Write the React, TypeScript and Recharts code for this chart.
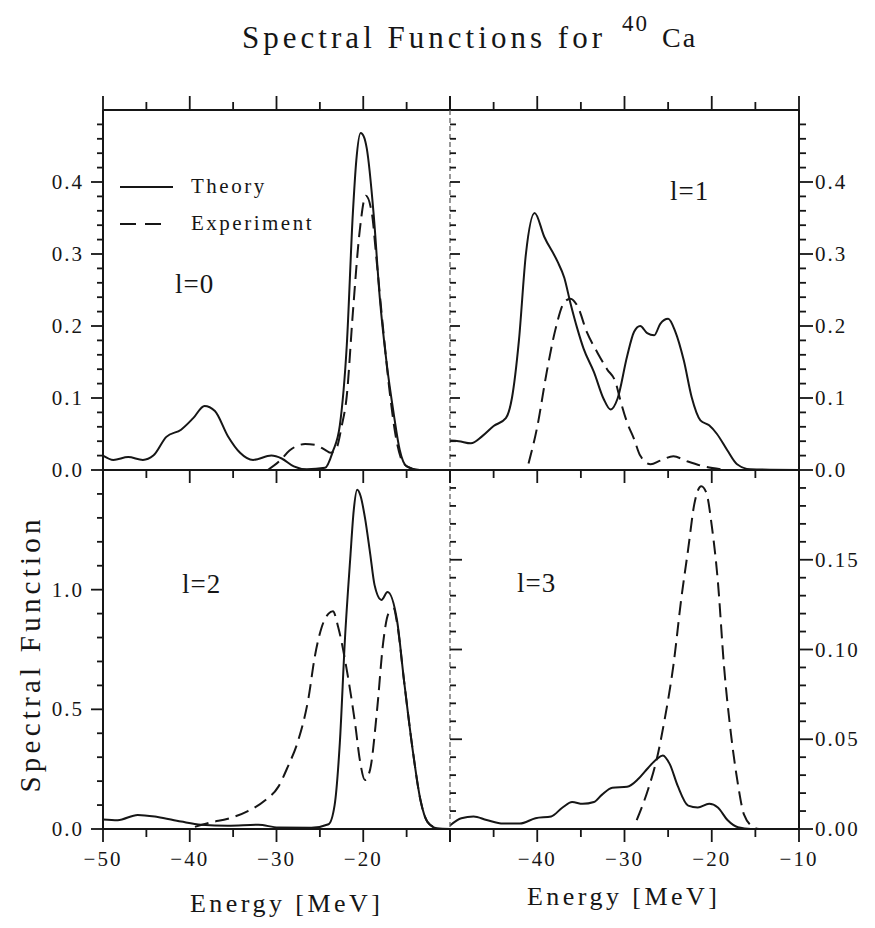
import React from "react";
import { LineChart, Line, XAxis, YAxis, Legend } from "recharts";

type Pt = [number, number]; // [energy MeV, spectral function]

// l = 0
const L0_THEORY: Pt[] = [
  [-50, 0.02], [-48.8, 0.014], [-47.1, 0.018], [-45.4, 0.014], [-44.2, 0.02],
  [-42.7, 0.046], [-41, 0.056], [-39.6, 0.072], [-38.3, 0.089], [-37.1, 0.082],
  [-35.6, 0.047], [-34.2, 0.024], [-32.7, 0.014], [-30.6, 0.02], [-29.4, 0.016],
  [-28, 0.005], [-26.5, 0.001], [-24.4, 0.003], [-23.5, 0.026], [-22.7, 0.062],
  [-21.9, 0.173], [-21.2, 0.356], [-20.8, 0.43], [-20.3, 0.468], [-19.9, 0.462],
  [-19.6, 0.447], [-18.8, 0.355], [-18.1, 0.24], [-17.3, 0.148], [-16.5, 0.079],
  [-15.8, 0.028], [-15, 0.005], [-13.5, 0], [-10, 0],
];
const L0_EXPERIMENT: Pt[] = [
  [-31, 0], [-29.6, 0.013], [-28.5, 0.027], [-26.7, 0.036], [-25.6, 0.035],
  [-24.4, 0.028], [-23.8, 0.024], [-23.1, 0.03], [-22.5, 0.06], [-21.9, 0.103],
  [-21.2, 0.218], [-20.4, 0.333], [-19.7, 0.381], [-19, 0.356], [-18.5, 0.296],
  [-17.7, 0.195], [-16.9, 0.103], [-16.2, 0.043], [-15.4, 0.01], [-14.6, 0.003],
  [-14, 0],
];

// l = 1
const L1_THEORY: Pt[] = [
  [-50, 0.041], [-49, 0.04], [-47.6, 0.037], [-46.3, 0.047], [-45, 0.061],
  [-43.6, 0.072], [-42.9, 0.1], [-42.1, 0.18], [-41.3, 0.3], [-40.3, 0.357],
  [-39.2, 0.324], [-37.7, 0.29], [-36.9, 0.267], [-36.2, 0.232], [-35.4, 0.196],
  [-34.7, 0.169], [-33.5, 0.136], [-32.4, 0.099], [-31.6, 0.084], [-30.8, 0.099],
  [-29.7, 0.158], [-28.9, 0.192], [-28.2, 0.2], [-27.4, 0.19], [-26.6, 0.187],
  [-25.9, 0.203], [-25, 0.21], [-24.2, 0.193], [-23.2, 0.152], [-22.3, 0.101],
  [-21.3, 0.069], [-20.3, 0.062], [-19.4, 0.05], [-18.2, 0.027], [-17.1, 0.008],
  [-15.6, 0.001], [-10, 0],
];
const L1_EXPERIMENT: Pt[] = [
  [-41, 0.009], [-40, 0.06], [-38.9, 0.137], [-37.9, 0.196], [-36.9, 0.233],
  [-36.2, 0.238], [-35.4, 0.228], [-34.3, 0.191], [-33.1, 0.163], [-32, 0.14],
  [-31, 0.121], [-30.5, 0.098], [-29.7, 0.066], [-28.9, 0.043], [-28.2, 0.02],
  [-27, 0.008], [-25.9, 0.013], [-24.4, 0.019], [-22.8, 0.012], [-20.9, 0.005],
  [-19, 0.001],
];

// l = 2
const L2_THEORY: Pt[] = [
  [-50, 0.04], [-48.3, 0.037], [-46, 0.059], [-43.7, 0.05], [-41, 0.031],
  [-38.7, 0.018], [-35.6, 0.014], [-32.1, 0.018], [-29.8, 0.006], [-26, 0.005],
  [-24, 0.02], [-23.3, 0.1], [-22.7, 0.36], [-22.1, 0.8], [-21.5, 1.13],
  [-21.1, 1.33], [-20.7, 1.417], [-20.3, 1.39], [-19.8, 1.3], [-19.2, 1.15],
  [-18.7, 1.02], [-17.9, 0.957], [-17.2, 0.99], [-16.1, 0.87], [-15.3, 0.62],
  [-14.3, 0.33], [-13.4, 0.12], [-12.6, 0.03], [-11.5, 0.003], [-10, 0],
];
const L2_EXPERIMENT: Pt[] = [
  [-39.4, 0.009], [-37.5, 0.028], [-35.6, 0.043], [-33.3, 0.075], [-31.3, 0.12],
  [-29.8, 0.176], [-28.7, 0.26], [-27.5, 0.37], [-26.3, 0.55], [-25.6, 0.717],
  [-24.8, 0.842], [-24, 0.9], [-23.5, 0.91], [-22.9, 0.845], [-21.9, 0.665],
  [-20.9, 0.43], [-20.4, 0.29], [-19.8, 0.205], [-19.2, 0.25], [-18.4, 0.5],
  [-17.7, 0.78], [-17.1, 0.9], [-16.5, 0.92], [-16.1, 0.86], [-15.3, 0.62],
  [-14.3, 0.33], [-13.4, 0.12], [-12.6, 0.03], [-11.5, 0.003],
];

// l = 3
const L3_THEORY: Pt[] = [
  [-50, 0.002], [-48.7, 0.006], [-47.3, 0.007], [-45.8, 0.005], [-43.9, 0.003],
  [-42, 0.003], [-40.2, 0.006], [-38.4, 0.007], [-37.1, 0.012], [-36, 0.015],
  [-34.8, 0.014], [-33.5, 0.015], [-32.6, 0.019], [-31.4, 0.023], [-29.7, 0.0235],
  [-28.4, 0.028], [-27.3, 0.034], [-26.3, 0.039], [-25.6, 0.041], [-24.8, 0.036],
  [-23.9, 0.024], [-22.7, 0.013], [-21.6, 0.012], [-20.3, 0.014], [-19.3, 0.012],
  [-18.2, 0.005], [-17, 0.001], [-15.5, 0], [-10, 0],
];
const L3_EXPERIMENT: Pt[] = [
  [-28.6, 0.005], [-27.3, 0.022], [-26.3, 0.039], [-25.4, 0.061], [-24.4, 0.091],
  [-23.5, 0.128], [-22.7, 0.156], [-22, 0.181], [-21.2, 0.191], [-20.6, 0.187],
  [-20, 0.169], [-19.3, 0.138], [-18.6, 0.091], [-17.8, 0.053], [-17, 0.025],
  [-16.3, 0.008], [-15.2, 0.001], [-14.6, 0],
];

const X_TICKS = [-50, -45, -40, -35, -30, -25, -20, -15, -10];
const LEFT_X_LABELS = [-50, -40, -30, -20];
const RIGHT_X_LABELS = [-40, -30, -20, -10];
const UPPER_Y_LABELS = [0, 0.1, 0.2, 0.3, 0.4];
const L2_Y_LABELS = [0, 0.5, 1.0];
const L3_Y_LABELS = [0, 0.05, 0.1, 0.15];
const LEGEND_ORDER = ["Theory", "Experiment"];

const W = 875;
const H = 928;
const FONT = '"Liberation Serif", "Times New Roman", serif';
const INK = "#161616";
const DASH = "14 7";
const AX = 1; // thickness reserved for each axis

// plot frame (page pixels)
const X0 = 103;
const XM = 450;
const X1 = 799;
const Y0 = 110;
const YM = 470;
const Y1 = 829;

function steps(lo: number, hi: number, step: number) {
  const n = Math.round((hi - lo) / step);
  return Array.from({ length: n + 1 }, (_, i) => Number((lo + i * step).toFixed(4)));
}

const rows = (pts: Pt[]) => pts.map(([x, y]) => ({ x, y }));

type TickOpts = {
  dir: "up" | "down" | "left" | "right";
  major: number;
  majorLen: number;
  minorLen: number;
  labels?: number[];
  digits?: number;
};

// custom tick: with tickSize/tickMargin at 0, (x, y) sits on the axis line
function tickRenderer(o: TickOpts) {
  return (props: any) => {
    const x = Number(props.x);
    const y = Number(props.y);
    const v = Number(props.payload.value);
    const r = v / o.major;
    const isMajor = Math.abs(r - Math.round(r)) < 1e-6;
    const len = isMajor ? o.majorLen : o.minorLen;
    const vertical = o.dir === "up" || o.dir === "down";
    const rx = vertical ? x - 0.9 : o.dir === "left" ? x - len : x;
    const ry = vertical ? (o.dir === "up" ? y - len : y) : y - 0.9;
    const rw = vertical ? 1.8 : len;
    const rh = vertical ? len : 1.8;
    const hasLabel = (o.labels ?? []).some((l) => Math.abs(l - v) < 1e-6);
    let label: React.ReactNode = null;
    if (hasLabel) {
      const txt = (v < 0 ? "\u2212" : "") + Math.abs(v).toFixed(o.digits ?? 0);
      const common = { fontFamily: FONT, fontSize: 21, fill: INK, letterSpacing: 2 };
      if (o.dir === "left") {
        label = <text x={x - 19} y={y + 7} textAnchor="end" {...common}>{txt}</text>;
      } else if (o.dir === "right") {
        label = <text x={x + 16} y={y + 7} textAnchor="start" {...common}>{txt}</text>;
      } else {
        label = <text x={x} y={y + 37} textAnchor="middle" {...common}>{txt}</text>;
      }
    }
    return (
      <g>
        <rect x={rx} y={ry} width={rw} height={rh} fill={INK} stroke="none" />
        {label}
      </g>
    );
  };
}

const solidAxis = { stroke: INK, strokeWidth: 2 };
const dividerAxis = { stroke: "#555", strokeWidth: 1.2, strokeDasharray: "5 3" };

function renderLegend(props: any) {
  const items = [...(props.payload ?? [])].sort(
    (a: any, b: any) => LEGEND_ORDER.indexOf(a.value) - LEGEND_ORDER.indexOf(b.value)
  );
  return (
    <div style={{ fontFamily: FONT, fontSize: 21, letterSpacing: 2.5, color: INK }}>
      {items.map((e: any) => (
        <div key={e.value} style={{ display: "flex", alignItems: "center", height: 37 }}>
          <svg width={60} height={8}>
            <line
              x1={2}
              y1={4}
              x2={e.value === "Experiment" ? 43 : 55}
              y2={4}
              stroke={INK}
              strokeWidth={2}
              strokeDasharray={e.value === "Experiment" ? "16 9" : undefined}
            />
          </svg>
          <span style={{ marginLeft: 13 }}>{e.value}</span>
        </div>
      ))}
    </div>
  );
}

type PanelProps = {
  box: [number, number, number, number];
  yDomain: [number, number];
  yTicks: number[];
  theory: Pt[];
  experiment: Pt[];
  top: TickOpts;
  left: TickOpts;
  leftLine: object;
  bottom?: TickOpts;
  right?: TickOpts;
  legend?: boolean;
};

function Panel(p: PanelProps) {
  const [l, t, r, b] = p.box;
  const margin = {
    left: l - AX,
    top: t - AX,
    right: W - r - (p.right ? AX : 0),
    bottom: H - b - (p.bottom ? AX : 0),
  };
  return (
    <div style={{ position: "absolute", left: 0, top: 0 }}>
      <LineChart width={W} height={H} margin={margin}>
        <XAxis
          xAxisId="main"
          orientation="top"
          type="number"
          dataKey="x"
          domain={[-50, -10]}
          allowDataOverflow
          ticks={X_TICKS}
          interval={0}
          height={AX}
          tickSize={0}
          tickMargin={0}
          tickLine={false}
          axisLine={solidAxis}
          tick={tickRenderer(p.top)}
        />
        {p.bottom && (
          <XAxis
            xAxisId="low"
            orientation="bottom"
            type="number"
            dataKey="x"
            domain={[-50, -10]}
            allowDataOverflow
            ticks={X_TICKS}
            interval={0}
            height={AX}
            tickSize={0}
            tickMargin={0}
            tickLine={false}
            axisLine={solidAxis}
            tick={tickRenderer(p.bottom)}
          />
        )}
        <YAxis
          yAxisId="main"
          orientation="left"
          type="number"
          domain={p.yDomain}
          allowDataOverflow
          ticks={p.yTicks}
          interval={0}
          width={AX}
          tickSize={0}
          tickMargin={0}
          tickLine={false}
          axisLine={p.leftLine}
          tick={tickRenderer(p.left)}
        />
        {p.right && (
          <YAxis
            yAxisId="side"
            orientation="right"
            type="number"
            domain={p.yDomain}
            allowDataOverflow
            ticks={p.yTicks}
            interval={0}
            width={AX}
            tickSize={0}
            tickMargin={0}
            tickLine={false}
            axisLine={solidAxis}
            tick={tickRenderer(p.right)}
          />
        )}
        <Line
          xAxisId="main"
          yAxisId="main"
          data={rows(p.theory)}
          dataKey="y"
          name="Theory"
          type="monotone"
          stroke={INK}
          strokeWidth={2}
          dot={false}
          activeDot={false}
          isAnimationActive={false}
        />
        <Line
          xAxisId="main"
          yAxisId="main"
          data={rows(p.experiment)}
          dataKey="y"
          name="Experiment"
          type="monotone"
          stroke={INK}
          strokeWidth={2}
          strokeDasharray={DASH}
          dot={false}
          activeDot={false}
          isAnimationActive={false}
        />
        {p.legend && (
          <Legend
            layout="horizontal"
            verticalAlign="middle"
            align="center"
            wrapperStyle={{ left: 118, top: 168, width: 260 }}
            content={renderLegend}
          />
        )}
      </LineChart>
    </div>
  );
}

const UPPER_TICKS = steps(0, 0.48, 0.02);
const L2_TICKS = steps(0, 1.4, 0.1);
const L3_TICKS = steps(0, 0.19, 0.01);

export default function App() {
  const txt = { fontFamily: FONT, fill: INK };
  return (
    <div style={{ position: "absolute", left: 0, top: 0, width: W, height: H, background: "#fff" }}>
      {/* l=0 */}
      <Panel
        box={[X0, Y0, XM, YM]}
        yDomain={[0, 0.5]}
        yTicks={UPPER_TICKS}
        theory={L0_THEORY}
        experiment={L0_EXPERIMENT}
        top={{ dir: "up", major: 10, majorLen: 14, minorLen: 8 }}
        left={{ dir: "left", major: 0.1, majorLen: 12, minorLen: 6, labels: UPPER_Y_LABELS, digits: 1 }}
        leftLine={solidAxis}
        legend
      />
      {/* l=1 */}
      <Panel
        box={[XM, Y0, X1, YM]}
        yDomain={[0, 0.5]}
        yTicks={UPPER_TICKS}
        theory={L1_THEORY}
        experiment={L1_EXPERIMENT}
        top={{ dir: "up", major: 10, majorLen: 14, minorLen: 8 }}
        left={{ dir: "right", major: 0.1, majorLen: 10, minorLen: 6 }}
        leftLine={dividerAxis}
        right={{ dir: "right", major: 0.1, majorLen: 14, minorLen: 7, labels: UPPER_Y_LABELS, digits: 1 }}
      />
      {/* l=2 */}
      <Panel
        box={[X0, YM, XM, Y1]}
        yDomain={[0, 1.5]}
        yTicks={L2_TICKS}
        theory={L2_THEORY}
        experiment={L2_EXPERIMENT}
        top={{ dir: "down", major: 10, majorLen: 13, minorLen: 8 }}
        left={{ dir: "left", major: 0.5, majorLen: 12, minorLen: 6, labels: L2_Y_LABELS, digits: 1 }}
        leftLine={solidAxis}
        bottom={{ dir: "down", major: 10, majorLen: 13, minorLen: 8, labels: LEFT_X_LABELS }}
      />
      {/* l=3 */}
      <Panel
        box={[XM, YM, X1, Y1]}
        yDomain={[0, 0.2]}
        yTicks={L3_TICKS}
        theory={L3_THEORY}
        experiment={L3_EXPERIMENT}
        top={{ dir: "down", major: 10, majorLen: 13, minorLen: 8 }}
        left={{ dir: "right", major: 0.05, majorLen: 12, minorLen: 6 }}
        leftLine={dividerAxis}
        bottom={{ dir: "down", major: 10, majorLen: 13, minorLen: 8, labels: RIGHT_X_LABELS }}
        right={{ dir: "right", major: 0.05, majorLen: 14, minorLen: 7, labels: L3_Y_LABELS, digits: 2 }}
      />

      <svg width={W} height={H} style={{ position: "absolute", left: 0, top: 0, pointerEvents: "none" }}>
        <text x={242} y={48} fontSize={31} textLength={360} lengthAdjust="spacing" {...txt}>
          Spectral Functions for
        </text>
        <text x={622} y={31} fontSize={23} letterSpacing={2} {...txt}>40</text>
        <text x={662} y={47} fontSize={28} letterSpacing={2} {...txt}>Ca</text>

        <text
          x={0}
          y={0}
          fontSize={29}
          textAnchor="middle"
          textLength={273}
          lengthAdjust="spacing"
          transform="translate(40 656) rotate(-90)"
          {...txt}
        >
          Spectral Function
        </text>

        <text x={190} y={912} fontSize={26} textLength={190} lengthAdjust="spacing" {...txt}>Energy [MeV]</text>
        <text x={527} y={905} fontSize={26} textLength={190} lengthAdjust="spacing" {...txt}>Energy [MeV]</text>

        <text x={175} y={293} fontSize={27} letterSpacing={1} {...txt}>l=0</text>
        <text x={670} y={200} fontSize={27} letterSpacing={1} {...txt}>l=1</text>
        <text x={182} y={593} fontSize={27} letterSpacing={1} {...txt}>l=2</text>
        <text x={517} y={592} fontSize={27} letterSpacing={1} {...txt}>l=3</text>
      </svg>
    </div>
  );
}
